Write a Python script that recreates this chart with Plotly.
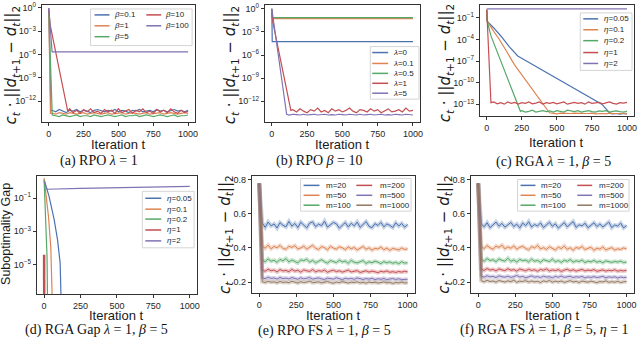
import plotly.graph_objects as go

W, H = 640, 340

BLUE, ORANGE, GREEN, RED, PURPLE, BROWN = (
    "#4C72B0", "#DD8452", "#55A868", "#C44E52", "#8172B3", "#937860")
FRAME = "#333333"

# ---------------------------------------------------------------------------
# data (log panels hold log10 of the plotted value)
# ---------------------------------------------------------------------------

# (a) RPO lambda=1, beta sweep
A_LABELS = ["<i>β</i>=0.1", "<i>β</i>=1", "<i>β</i>=5", "<i>β</i>=10", "<i>β</i>=100"]
A_B01_T, A_B01_Y = [0, 15], [0.0, -13.3]
A_B01_P = [-13.2, -13.4, -13.1, -13.3, -13.5, -13.2, -13.3, -13.1, -13.4, -13.2,
           -13.3, -13.5, -13.2, -13.1, -13.3, -13.4, -13.2, -13.3, -13.1, -13.4,
           -13.2, -13.3, -13.5, -13.2, -13.3, -13.1, -13.4, -13.3, -13.2, -13.4,
           -13.1, -13.3, -13.2, -13.4, -13.3, -13.1, -13.3, -13.2, -13.4, -13.2]
A_B1_T, A_B1_Y = [0, 12], [-0.4, -13.6]
A_B1_P = [-13.6, -13.7, -13.5, -13.6, -13.7, -13.5, -13.6, -13.7, -13.6, -13.5,
          -13.7, -13.6, -13.5, -13.6, -13.7, -13.6, -13.5, -13.7, -13.6, -13.6,
          -13.5, -13.7, -13.6, -13.5, -13.6, -13.7, -13.6, -13.5, -13.7, -13.6,
          -13.6, -13.5, -13.7, -13.6, -13.5, -13.6, -13.7, -13.6, -13.5, -13.6]
A_B5_T, A_B5_Y = [0, 25], [-0.3, -13.8]
A_B5_P = [-13.9, -14.0, -13.8, -13.9, -14.0, -13.9, -13.8, -14.0, -13.9, -13.9,
          -14.0, -13.8, -13.9, -14.0, -13.9, -13.8, -13.9, -14.0, -13.9, -13.8,
          -14.0, -13.9, -13.9, -13.8, -14.0, -13.9, -13.8, -13.9, -14.0, -13.9,
          -13.8, -13.9, -14.0, -13.9, -13.8, -14.0, -13.9, -13.9, -13.8]
A_B10_T, A_B10_Y = [0, 10, 136], [-0.2, -2.2, -13.3]
A_B10_P = [-13.0, -13.5, -13.2, -13.6, -13.1, -13.4, -13.0, -13.5, -13.3, -13.6,
           -13.1, -13.4, -13.2, -13.6, -13.0, -13.5, -13.3, -13.1, -13.6, -13.2,
           -13.4, -13.0, -13.5, -13.3, -13.6, -13.1, -13.4, -13.2, -13.5, -13.0,
           -13.4, -13.6, -13.2, -13.5, -13.3]
A_B100_T, A_B100_Y = [0, 24, 1000], [0.0, -5.66, -5.66]

# (b) RPO beta=10, lambda sweep
B_LABELS = ["<i>λ</i>=0", "<i>λ</i>=0.1", "<i>λ</i>=0.5", "<i>λ</i>=1", "<i>λ</i>=5"]
B_L0_T, B_L0_Y = [0, 3, 1000], [0.0, -4.27, -4.27]
B_L01_T, B_L01_Y = [0, 3, 1000], [0.0, -1.28, -1.28]
B_L05_T, B_L05_Y = [0, 3, 1000], [0.0, -1.15, -1.15]
B_L1_T, B_L1_Y = [0, 8, 135], [-0.6, -1.8, -13.2]
B_L1_P = [-13.1, -13.4, -13.0, -13.3, -13.5, -13.1, -13.3, -12.9, -13.4, -13.2,
          -13.5, -13.0, -13.3, -13.1, -13.4, -13.2, -12.9, -13.3, -13.5, -13.1,
          -13.2, -13.4, -13.0, -13.3, -13.1, -13.5, -13.2, -13.0, -13.4, -13.3,
          -13.1, -13.4, -12.9, -13.3, -13.2]
B_L5_T, B_L5_Y = [0, 105], [0.0, -13.7]
B_L5_P = [-13.8, -13.7, -13.75, -13.8, -13.7, -13.8, -13.75, -13.7, -13.8, -13.75,
          -13.7, -13.8, -13.75, -13.8, -13.7, -13.75, -13.8, -13.7, -13.75, -13.8,
          -13.7, -13.8, -13.75, -13.7, -13.8, -13.75, -13.7, -13.8, -13.75, -13.8,
          -13.7, -13.75, -13.8, -13.7, -13.75, -13.8]

# (c) RGA lambda=1 beta=5, step size sweep
C_LABELS = ["<i>η</i>=0.05", "<i>η</i>=0.1", "<i>η</i>=0.2", "<i>η</i>=1", "<i>η</i>=2"]
C_E005_T = [0, 3, 50, 102, 160, 221, 292, 363, 500, 700, 820, 880]
C_E005_Y = [0.15, -1.45, -2.4, -3.55, -5.0, -6.3, -7.1, -7.9, -9.4, -11.6, -13.0, -14.3]
C_E005_P = [-14.35, -14.3, -14.4, -14.3, -14.35]
C_E01_T = [0, 3, 40, 90, 140, 197, 447]
C_E01_Y = [0.15, -1.45, -2.6, -4.0, -5.6, -7.5, -14.2]
C_E01_P = [-14.3, -14.35, -14.25, -14.3, -14.35, -14.3, -14.25, -14.3, -14.35, -14.3,
           -14.3, -14.25, -14.35, -14.3, -14.3, -14.35, -14.25, -14.3, -14.35, -14.3,
           -14.3, -14.35]
C_E02_T = [0, 3, 30, 78, 150, 221, 240]
C_E02_Y = [0.15, -1.45, -3.5, -5.9, -9.6, -13.2, -14.0]
C_E02_P = [-13.9, -14.1, -14.0, -13.85, -14.1, -14.0, -13.9, -14.05, -13.95, -14.1,
           -13.9, -14.0, -14.1, -13.85, -14.0, -14.05, -13.9, -14.1, -14.0, -13.9,
           -14.05, -14.1, -13.95, -14.0, -13.9, -14.1, -14.0, -13.95, -14.05, -14.1,
           -14.0]
C_E1_T, C_E1_Y = [0, 30], [0.15, -12.8]
C_E1_P = [-12.7, -12.95, -12.8, -13.0, -12.7, -12.9, -12.75, -13.0, -12.8, -12.9,
          -12.7, -12.95, -12.85, -12.7, -13.0, -12.8, -12.9, -12.75, -12.95, -12.8,
          -12.7, -13.0, -12.85, -12.75, -12.9, -12.8, -13.0, -12.7, -12.9, -12.85,
          -12.75, -12.95, -12.8, -12.7, -12.9, -13.0, -12.8, -12.85, -12.75]
C_E2_T, C_E2_Y = [0, 1000], [0.25, 0.25]

# (d) RGA suboptimality gap
D_E005_T, D_E005_Y = [0, 34, 69, 92, 110, 116, 119], [0.1, -0.9, -2.3, -3.5, -4.9, -6.3, -8.0]
D_E01_T, D_E01_Y = [0, 30, 46, 52, 57], [0.2, -2.1, -4.0, -5.5, -7.5]
D_E02_T, D_E02_Y = [0, 11, 20, 24], [0.1, -2.1, -4.5, -7.5]
D_E1_T, D_E1_Y = [0, 1], [-4.42, -9.0]
D_E2_T, D_E2_Y = [0, 20, 250, 500, 750, 1000], [0.0, -0.47, -0.42, -0.38, -0.34, -0.3]

# (e) RPO FS, sampled every 20 iterations from t=0
M_LABELS = ["m=20", "m=50", "m=100", "m=200", "m=500", "m=1000"]
E_M20 = [0.78, 0.548, 0.521, 0.552, 0.530, 0.541, 0.517, 0.549, 0.533, 0.524,
         0.556, 0.528, 0.544, 0.520, 0.551, 0.535, 0.518, 0.546, 0.553, 0.525,
         0.540, 0.531, 0.557, 0.522, 0.536, 0.550, 0.542, 0.516, 0.534, 0.549,
         0.523, 0.545, 0.530, 0.552, 0.521, 0.539, 0.555, 0.527, 0.519, 0.543,
         0.532, 0.550, 0.524, 0.541, 0.533, 0.520, 0.548, 0.529, 0.544, 0.522, 0.538]
E_M50 = [0.78, 0.412, 0.398, 0.417, 0.395, 0.409, 0.401, 0.415, 0.397, 0.392,
         0.410, 0.403, 0.414, 0.394, 0.400, 0.411, 0.393, 0.405, 0.416, 0.398,
         0.391, 0.408, 0.402, 0.389, 0.410, 0.399, 0.393, 0.407, 0.401, 0.390,
         0.406, 0.395, 0.403, 0.388, 0.399, 0.409, 0.392, 0.401, 0.387, 0.398,
         0.394, 0.405, 0.390, 0.399, 0.386, 0.397, 0.393, 0.388, 0.400, 0.391, 0.395]
E_M100 = [0.78, 0.331, 0.319, 0.336, 0.322, 0.328, 0.315, 0.333, 0.324, 0.338,
          0.318, 0.329, 0.321, 0.312, 0.330, 0.325, 0.334, 0.317, 0.327, 0.313,
          0.322, 0.331, 0.319, 0.311, 0.326, 0.320, 0.314, 0.328, 0.318, 0.323,
          0.310, 0.327, 0.316, 0.312, 0.321, 0.326, 0.309, 0.319, 0.313, 0.322,
          0.317, 0.308, 0.320, 0.312, 0.318, 0.310, 0.316, 0.307, 0.319, 0.311, 0.313]
E_M200 = [0.78, 0.272, 0.263, 0.275, 0.266, 0.270, 0.259, 0.273, 0.265, 0.268,
          0.261, 0.274, 0.264, 0.269, 0.258, 0.271, 0.266, 0.262, 0.273, 0.260,
          0.267, 0.263, 0.270, 0.257, 0.265, 0.269, 0.261, 0.266, 0.258, 0.264,
          0.270, 0.259, 0.263, 0.267, 0.256, 0.262, 0.266, 0.258, 0.264, 0.260,
          0.255, 0.263, 0.259, 0.265, 0.257, 0.261, 0.256, 0.262, 0.258, 0.263, 0.259]
E_M500 = [0.78, 0.226, 0.219, 0.228, 0.221, 0.224, 0.217, 0.227, 0.220, 0.223,
          0.218, 0.226, 0.221, 0.216, 0.225, 0.219, 0.222, 0.227, 0.217, 0.221,
          0.224, 0.218, 0.215, 0.223, 0.220, 0.217, 0.225, 0.219, 0.214, 0.222,
          0.218, 0.221, 0.216, 0.224, 0.219, 0.215, 0.220, 0.217, 0.222, 0.214,
          0.219, 0.216, 0.221, 0.213, 0.218, 0.220, 0.215, 0.219, 0.214, 0.217, 0.216]
E_M1000 = [0.78, 0.202, 0.197, 0.204, 0.199, 0.201, 0.195, 0.203, 0.198, 0.200,
           0.196, 0.204, 0.199, 0.194, 0.202, 0.197, 0.200, 0.205, 0.196, 0.199,
           0.201, 0.195, 0.198, 0.203, 0.197, 0.193, 0.200, 0.196, 0.202, 0.198,
           0.194, 0.199, 0.197, 0.201, 0.195, 0.198, 0.193, 0.200, 0.196, 0.199,
           0.194, 0.197, 0.201, 0.195, 0.198, 0.192, 0.197, 0.195, 0.199, 0.194, 0.196]

# (f) RGA FS
F_M20 = [0.78, 0.541, 0.525, 0.548, 0.519, 0.537, 0.552, 0.528, 0.544, 0.522,
         0.535, 0.550, 0.526, 0.540, 0.518, 0.546, 0.531, 0.554, 0.523, 0.538,
         0.529, 0.547, 0.520, 0.536, 0.551, 0.527, 0.542, 0.517, 0.533, 0.549,
         0.524, 0.539, 0.555, 0.521, 0.536, 0.530, 0.545, 0.519, 0.534, 0.548,
         0.526, 0.541, 0.523, 0.537, 0.552, 0.520, 0.535, 0.528, 0.546, 0.518, 0.532]
F_M50 = [0.78, 0.409, 0.396, 0.414, 0.401, 0.392, 0.411, 0.403, 0.417, 0.395,
         0.406, 0.398, 0.412, 0.393, 0.404, 0.410, 0.397, 0.389, 0.408, 0.400,
         0.415, 0.394, 0.402, 0.391, 0.407, 0.399, 0.388, 0.405, 0.396, 0.411,
         0.392, 0.401, 0.387, 0.403, 0.397, 0.409, 0.390, 0.398, 0.404, 0.386,
         0.399, 0.393, 0.406, 0.389, 0.397, 0.402, 0.388, 0.395, 0.391, 0.400, 0.394]
F_M100 = [0.78, 0.334, 0.322, 0.338, 0.326, 0.331, 0.319, 0.336, 0.327, 0.323,
          0.340, 0.321, 0.330, 0.317, 0.333, 0.325, 0.329, 0.318, 0.335, 0.322,
          0.327, 0.316, 0.331, 0.324, 0.320, 0.334, 0.319, 0.326, 0.315, 0.328,
          0.321, 0.332, 0.317, 0.325, 0.320, 0.329, 0.314, 0.323, 0.318, 0.327,
          0.316, 0.322, 0.313, 0.324, 0.319, 0.315, 0.321, 0.317, 0.323, 0.314, 0.318]
F_M200 = [0.78, 0.276, 0.268, 0.279, 0.270, 0.274, 0.265, 0.277, 0.271, 0.267,
          0.278, 0.269, 0.273, 0.264, 0.276, 0.270, 0.266, 0.275, 0.268, 0.272,
          0.263, 0.274, 0.269, 0.277, 0.265, 0.271, 0.267, 0.273, 0.262, 0.270,
          0.275, 0.266, 0.272, 0.264, 0.269, 0.274, 0.265, 0.270, 0.267, 0.273,
          0.263, 0.268, 0.271, 0.264, 0.269, 0.266, 0.272, 0.263, 0.268, 0.265, 0.269]
F_M500 = [0.78, 0.235, 0.228, 0.237, 0.230, 0.233, 0.226, 0.236, 0.231, 0.228,
          0.234, 0.227, 0.232, 0.238, 0.229, 0.233, 0.225, 0.231, 0.236, 0.228,
          0.232, 0.226, 0.234, 0.229, 0.231, 0.225, 0.233, 0.228, 0.235, 0.227,
          0.230, 0.234, 0.226, 0.231, 0.228, 0.233, 0.224, 0.230, 0.227, 0.232,
          0.226, 0.229, 0.233, 0.225, 0.230, 0.227, 0.231, 0.224, 0.229, 0.226, 0.228]
F_M1000 = [0.78, 0.208, 0.201, 0.210, 0.203, 0.206, 0.199, 0.209, 0.204, 0.200,
           0.207, 0.202, 0.211, 0.198, 0.205, 0.203, 0.208, 0.200, 0.206, 0.201,
           0.204, 0.197, 0.207, 0.202, 0.209, 0.199, 0.205, 0.201, 0.206, 0.198,
           0.203, 0.208, 0.200, 0.204, 0.197, 0.206, 0.202, 0.199, 0.205, 0.201,
           0.196, 0.203, 0.200, 0.207, 0.198, 0.202, 0.199, 0.204, 0.197, 0.201, 0.203]

X_TICKS = [0, 250, 500, 750, 1000]


def px_x(x):
    return x / W


def px_y(y):
    return 1 - y / H


def log_series(head_t, head_y, plateau=(), start=0, step=25):
    t = list(head_t) + [start + step * i for i in range(len(plateau))]
    y = list(head_y) + list(plateau)
    return t, [10 ** v for v in y]


def sup(e):
    return "10<sup>%s</sup>" % str(e).replace("-", "−")


fig = go.Figure()


def axis_names(i):
    return ("x" if i == 1 else f"x{i}"), ("y" if i == 1 else f"y{i}")


def add_line(i, t, y, color, width=1.2, opacity=1.0):
    xa, ya = axis_names(i)
    fig.add_trace(go.Scatter(x=t, y=y, mode="lines", xaxis=xa, yaxis=ya,
                             line=dict(color=color, width=width), opacity=opacity,
                             showlegend=False, hoverinfo="skip"))


# (a)
add_line(1, *log_series(A_B01_T, A_B01_Y, A_B01_P, 25), BLUE)
add_line(1, *log_series(A_B1_T, A_B1_Y, A_B1_P, 25), ORANGE)
add_line(1, *log_series(A_B5_T, A_B5_Y, A_B5_P, 50), GREEN)
add_line(1, *log_series(A_B10_T, A_B10_Y, A_B10_P, 150), RED)
add_line(1, *log_series(A_B100_T, A_B100_Y), PURPLE)
# (b)
add_line(2, *log_series(B_L0_T, B_L0_Y), BLUE)
add_line(2, *log_series(B_L01_T, B_L01_Y), ORANGE)
add_line(2, *log_series(B_L05_T, B_L05_Y), GREEN)
add_line(2, *log_series(B_L1_T, B_L1_Y, B_L1_P, 150), RED)
add_line(2, *log_series(B_L5_T, B_L5_Y, B_L5_P, 125), PURPLE)
# (c)
add_line(3, *log_series(C_E005_T, C_E005_Y, C_E005_P, 900), BLUE)
add_line(3, *log_series(C_E01_T, C_E01_Y, C_E01_P, 475), ORANGE)
add_line(3, *log_series(C_E02_T, C_E02_Y, C_E02_P, 250), GREEN)
add_line(3, *log_series(C_E1_T, C_E1_Y, C_E1_P, 50), RED)
add_line(3, *log_series(C_E2_T, C_E2_Y), PURPLE)
# (d)
add_line(4, *log_series(D_E005_T, D_E005_Y), BLUE)
add_line(4, *log_series(D_E01_T, D_E01_Y), ORANGE)
add_line(4, *log_series(D_E02_T, D_E02_Y), GREEN)
add_line(4, *log_series(D_E1_T, D_E1_Y), RED, width=2.5)
add_line(4, *log_series(D_E2_T, D_E2_Y), PURPLE)
# (e), (f)
FS_COLORS = [BLUE, ORANGE, GREEN, RED, PURPLE, BROWN]
for i, group in ((5, [E_M20, E_M50, E_M100, E_M200, E_M500, E_M1000]),
                 (6, [F_M20, F_M50, F_M100, F_M200, F_M500, F_M1000])):
    for vals, color in zip(group, FS_COLORS):
        t = [20 * k for k in range(len(vals))]
        add_line(i, t, vals, color, width=4, opacity=0.3)
        add_line(i, t, vals, color, width=1.0)

# axes: (x px range, y px range, y range, y type, y ticks)
LOG_T = [0, -3, -6, -9, -12]
PANELS = [
    ((42, 196), (2, 120), [-14.7, 0.38], "log", LOG_T),
    ((266, 422), (2, 120), [-14.7, 0.5], "log", LOG_T),
    ((482, 637), (2, 114), [-14.65, 0.8], "log", [-1, -4, -7, -10, -13]),
    ((37, 198), (175, 294), [-6.8, 0.3], "log", [-1, -3, -5]),
    ((253, 417), (175, 293), [0.133, 0.82], "linear", [0.2, 0.4, 0.6, 0.8]),
    ((473, 637), (175, 293), [0.133, 0.82], "linear", [0.2, 0.4, 0.6, 0.8]),
]
tickfont = dict(family="Liberation Sans, Arial, sans-serif", size=9, color="#262626")
common = dict(showline=True, mirror=True, linecolor=FRAME, linewidth=1, ticks="outside",
              ticklen=3, tickwidth=1, tickcolor=FRAME, showgrid=False, zeroline=False,
              tickfont=tickfont)
for i, (xr, yr, rng, kind, ticks) in enumerate(PANELS, start=1):
    xa, ya = axis_names(i)
    xkey = "xaxis" if i == 1 else f"xaxis{i}"
    ykey = "yaxis" if i == 1 else f"yaxis{i}"
    fig.layout[xkey] = dict(domain=[px_x(xr[0]), px_x(xr[1])], range=[-50, 1050],
                            anchor=ya, tickvals=X_TICKS, **common)
    yd = dict(domain=[px_y(yr[1]), px_y(yr[0])], range=rng, type=kind, anchor=xa, **common)
    if kind == "log":
        yd.update(tickvals=[10 ** e for e in ticks], ticktext=[sup(e) for e in ticks])
    else:
        yd.update(tickvals=ticks, ticktext=["%.1f" % v for v in ticks])
    fig.layout[ykey] = yd

# axis titles and captions
YT = ("<i>c<sub>t</sub></i> · ||<i>d</i><sub><i>t</i>+1</sub> − "
      "<i>d<sub>t</sub></i>||<sub>2</sub>")
Y_TITLES = [(12, 62, YT), (232, 62, YT), (448, 60, YT),
            (6, 233, "Suboptimality Gap"), (227, 233, YT), (447, 233, YT)]
for x, y, txt in Y_TITLES:
    big = txt == YT
    fig.add_annotation(x=px_x(x), y=px_y(y), xref="paper", yref="paper", text=txt,
                       textangle=-90, showarrow=False, xanchor="center", yanchor="middle",
                       font=dict(family="DejaVu Sans" if big else "Liberation Sans",
                                 size=15 if big else 12.5, color="#1a1a1a"))
X_TITLES = [(119, 143), (344, 143), (559, 141), (117, 315), (335, 315), (555, 315)]
for x, y in X_TITLES:
    fig.add_annotation(x=px_x(x), y=px_y(y), xref="paper", yref="paper", text="Iteration t",
                       showarrow=False, xanchor="center", yanchor="middle",
                       font=dict(family="Liberation Sans", size=13, color="#1a1a1a"))
CAPTIONS = [(99, 159, "(a) RPO <i>λ</i> = 1"),
            (320, 159, "(b) RPO <i>β</i> = 10"),
            (556, 160, "(c) RGA <i>λ</i> = 1, <i>β</i> = 5"),
            (97, 330, "(d) RGA Gap <i>λ</i> = 1, <i>β</i> = 5"),
            (326, 331, "(e) RPO FS <i>λ</i> = 1, <i>β</i> = 5"),
            (547, 330, "(f) RGA FS <i>λ</i> = 1, <i>β</i> = 5, <i>η</i> = 1")]
for x, y, txt in CAPTIONS:
    fig.add_annotation(x=px_x(x), y=px_y(y), xref="paper", yref="paper", text=txt,
                       showarrow=False, xanchor="center", yanchor="middle",
                       font=dict(family="Liberation Serif", size=14, color="#111111"))


# legends drawn as in matplotlib: framed box, short handle, label
def legend(box, handles, text_x, rows, labels, colors):
    x0, y0, x1, y1 = box
    fig.add_shape(type="rect", xref="paper", yref="paper", layer="above",
                  x0=px_x(x0), x1=px_x(x1), y0=px_y(y1), y1=px_y(y0),
                  line=dict(color="#d4d4d4", width=1), fillcolor="rgba(255,255,255,0.85)")
    for k, (lab, col) in enumerate(zip(labels, colors)):
        c, r = divmod(k, len(rows))
        fig.add_shape(type="line", xref="paper", yref="paper", layer="above",
                      x0=px_x(handles[c][0]), x1=px_x(handles[c][1]),
                      y0=px_y(rows[r]), y1=px_y(rows[r]), line=dict(color=col, width=1.5))
        fig.add_annotation(x=px_x(text_x[c]), y=px_y(rows[r]), xref="paper", yref="paper",
                           text=lab, showarrow=False, xanchor="left", yanchor="middle",
                           font=dict(family="Liberation Sans", size=8, color="#262626"))


C5 = [BLUE, ORANGE, GREEN, RED, PURPLE]
legend((91, 6, 193, 43), [(95, 110), (147, 162)], [113, 164], [12, 23, 34], A_LABELS, C5)
legend((372, 44, 421, 97), [(374, 390)], [393], [50, 61, 71, 81, 91], B_LABELS, C5)
legend((583, 10, 635, 68), [(586, 601)], [605], [16, 27, 38, 50, 61], C_LABELS, C5)
legend((143, 190, 195, 247), [(146, 162)], [166], [197, 208, 218, 229, 240], C_LABELS, C5)
legend((302, 177, 413, 210), [(305, 321), (358, 374)], [326, 380], [184, 194, 204],
       M_LABELS, FS_COLORS)
legend((520, 178, 632, 210), [(523, 538), (580, 595)], [542, 600], [184, 194, 204],
       M_LABELS, FS_COLORS)

fig.update_layout(width=W, height=H, margin=dict(l=0, r=0, t=0, b=0),
                  plot_bgcolor="white", paper_bgcolor="white", showlegend=False)
fig.write_html("out.html", config={"displayModeBar": False},
               post_script="document.body.style.margin='0px';")
